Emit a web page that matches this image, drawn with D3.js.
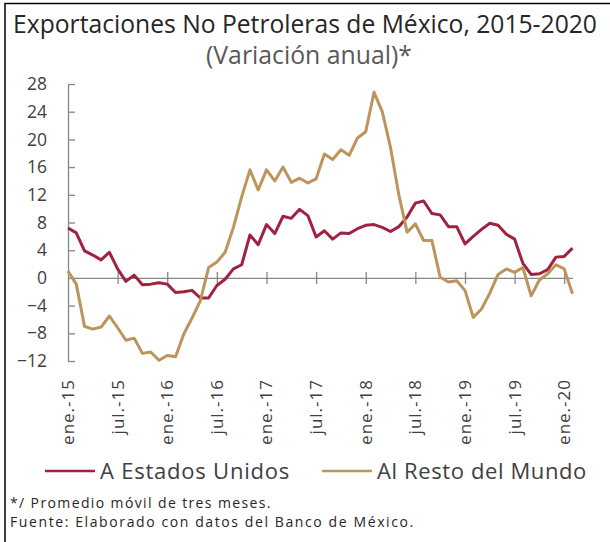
<!DOCTYPE html>
<html>
<head>
<meta charset="utf-8">
<script src="https://cdn.jsdelivr.net/npm/d3@7"></script>
<style>
  html, body { margin: 0; padding: 0; background: #fff; }
  svg text { font-family: "Open Sans", "Noto Sans", sans-serif; }
</style>
</head>
<body>
<svg id="chart" width="610" height="542"></svg>
<script>
// month names used to build the category list (ene.-15 ... feb.-20)
const monthNames = ['ene.', 'feb.', 'mar.', 'abr.', 'may.', 'jun.', 'jul.', 'ago.', 'sep.', 'oct.', 'nov.', 'dic.'];
const years = ['15', '16', '17', '18', '19', '20'];

// labelled categories on the x axis
const tickLabels = ['ene.-15', 'jul.-15', 'ene.-16', 'jul.-16', 'ene.-17', 'jul.-17',
                    'ene.-18', 'jul.-18', 'ene.-19', 'jul.-19', 'ene.-20'];

// variacion anual (%), promedio movil de tres meses
const usaValues = [7.2, 6.5, 3.9, 3.3, 2.6, 3.7, 1.3, -0.5, 0.4, -1.0, -0.9, -0.7,
                   -0.9, -2.1, -2.0, -1.8, -2.9, -2.9, -1.1, -0.2, 1.3, 1.9, 6.2, 4.8,
                   7.7, 6.4, 8.9, 8.6, 9.9, 9.0, 5.9, 6.8, 5.6, 6.5, 6.4, 7.1,
                   7.6, 7.7, 7.3, 6.7, 7.4, 8.8, 10.8, 11.1, 9.3, 9.1, 7.4, 7.4,
                   4.9, 6.0, 7.0, 7.9, 7.6, 6.3, 5.6, 2.1, 0.5, 0.6, 1.2, 3.0,
                   3.1, 4.3];
const restValues = [1.0, -0.9, -7.0, -7.4, -7.1, -5.5, -7.2, -9.0, -8.7, -10.9, -10.7, -11.9,
                    -11.2, -11.4, -8.1, -5.8, -3.3, 1.5, 2.3, 3.7, 7.3, 11.7, 15.6, 12.7,
                    15.6, 14.0, 16.0, 13.8, 14.4, 13.7, 14.3, 17.9, 17.1, 18.5, 17.7, 20.2,
                    21.1, 26.8, 24.0, 18.8, 12.0, 6.6, 7.8, 5.4, 5.4, 0.1, -0.6, -0.4,
                    -1.8, -5.7, -4.5, -2.2, 0.5, 1.3, 0.8, 1.5, -2.6, -0.3, 0.6, 1.9,
                    1.3, -2.3];
const yTicks = [-12, -8, -4, 0, 4, 8, 12, 16, 20, 24, 28];

const seriesNames = ['A Estados Unidos', 'Al Resto del Mundo'];
const seriesColors = ['#9f2241', '#bc955c'];

const categories = [];
years.forEach(yy => monthNames.forEach(m => categories.push(m + '-' + yy)));
categories.length = usaValues.length;

const svg = d3.select('#chart');

// frame (only top and left edges show in the original crop)
svg.append('path')
    .attr('d', 'M5,542V3.5H610')
    .attr('fill', 'none')
    .attr('stroke', '#000')
    .attr('stroke-width', 1.5);

// shrink / grow the font so the text spans the wanted width
function fitText(sel, width) {
    const size = parseFloat(sel.attr('font-size'));
    const len = sel.node().getComputedTextLength();
    sel.attr('font-size', (size * width / len).toFixed(2));
}
// keep the font size, stretch the letter spacing instead (Montserrat is wide)
function fitSpacing(sel, width) {
    const node = sel.node();
    const len = node.getComputedTextLength();
    const n = node.textContent.length;
    sel.attr('letter-spacing', ((width - len) / n).toFixed(2));
}

const title = svg.append('text')
    .attr('x', 305)
    .attr('y', 33)
    .attr('text-anchor', 'middle')
    .attr('fill', '#262626')
    .attr('font-size', 22)
    .text('Exportaciones No Petroleras de México, 2015-2020');
fitText(title, 584);

const subtitle = svg.append('text')
    .attr('x', 309)
    .attr('y', 64)
    .attr('text-anchor', 'middle')
    .attr('fill', '#595959')
    .attr('font-size', 19)
    .text('(Variación anual)*');
fitText(subtitle, 206);

const x = d3.scalePoint()
    .domain(categories)
    .range([68, 572.5]);

const y = d3.scaleLinear()
    .domain([-12, 28])
    .range([361, 84]);

// y axis, ticks pointing into the plot
svg.append('g')
    .attr('transform', 'translate(68,0)')
    .call(d3.axisLeft(y).tickValues(yTicks).tickSizeInner(-7).tickSizeOuter(0).tickPadding(21))
    .call(g => g.select('.domain').attr('stroke', '#868686').attr('stroke-width', 1.3))
    .call(g => g.selectAll('.tick line').attr('stroke', '#868686').attr('stroke-width', 1.3))
    .call(g => g.selectAll('.tick text')
        .attr('fill', '#404040')
        .attr('font-size', 17.5)
        .attr('font-family', '"Open Sans", sans-serif'));

// x axis on the zero line, ticks crossing it
svg.append('g')
    .attr('transform', `translate(0,${y(0)})`)
    .call(d3.axisBottom(x).tickValues(tickLabels.slice(1)).tickSizeInner(6).tickSizeOuter(0).tickFormat(''))
    .call(g => g.select('.domain').attr('stroke', '#868686').attr('stroke-width', 1.3))
    .call(g => g.selectAll('.tick line').attr('y1', -6).attr('stroke', '#868686').attr('stroke-width', 1.3));

// rotated category labels
svg.append('g')
    .selectAll('text')
    .data(tickLabels)
    .join('text')
    .attr('transform', d => `translate(${x(d)},379) rotate(-90)`)
    .attr('dy', '0.35em')
    .attr('text-anchor', 'end')
    .attr('fill', '#404040')
    .attr('font-size', 17)
    .attr('letter-spacing', 1)
    .text(d => d);

const line = d3.line()
    .x((d, i) => x(categories[i]))
    .y(d => y(d));

[usaValues, restValues].forEach((vals, k) => {
    svg.append('path')
        .datum(vals)
        .attr('fill', 'none')
        .attr('stroke', seriesColors[k])
        .attr('stroke-width', 3)
        .attr('stroke-linejoin', 'round')
        .attr('d', line);
});

// legend
const legendX = [45, 322];
const legendWidths = [190, 210];
const legend = svg.append('g')
    .selectAll('g')
    .data(seriesNames)
    .join('g')
    .attr('transform', (d, i) => `translate(${legendX[i]},471)`);
legend.append('line')
    .attr('x1', 0).attr('x2', 50)
    .attr('stroke', (d, i) => seriesColors[i])
    .attr('stroke-width', 2.5);
legend.append('text')
    .attr('x', 55)
    .attr('dy', '0.35em')
    .attr('fill', '#404040')
    .attr('font-size', 22)
    .text(d => d)
    .each(function (d, i) { fitSpacing(d3.select(this), legendWidths[i]); });

// footnotes
const notes = ['*/ Promedio móvil de tres meses.', 'Fuente: Elaborado con datos del Banco de México.'];
const noteWidths = [262, 405];
svg.append('g')
    .selectAll('text')
    .data(notes)
    .join('text')
    .attr('x', 10)
    .attr('y', (d, i) => 508 + i * 19)
    .attr('fill', '#262626')
    .attr('font-size', 14)
    .text(d => d)
    .each(function (d, i) { fitSpacing(d3.select(this), noteWidths[i]); });
</script>
</body>
</html>
